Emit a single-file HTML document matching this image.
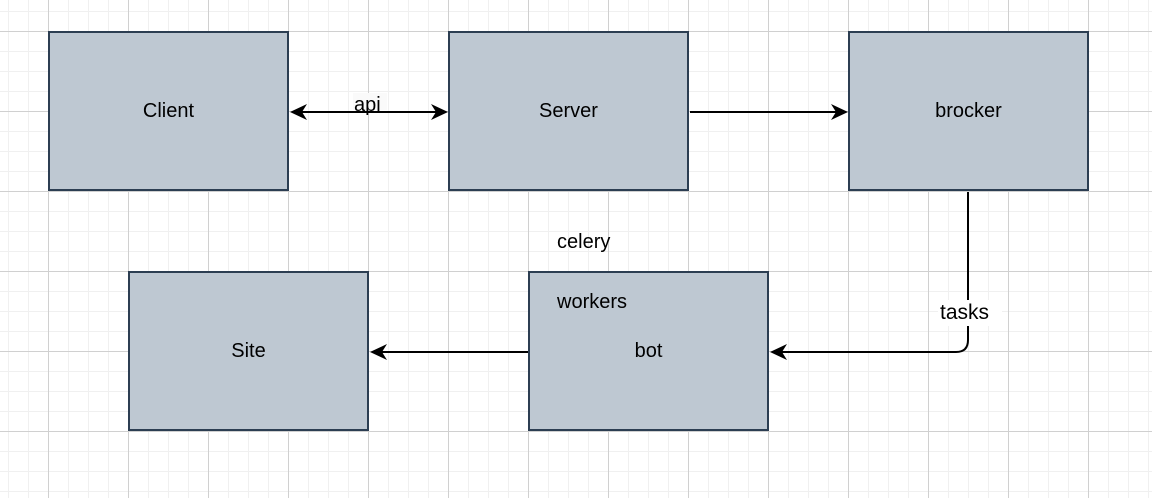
<!DOCTYPE html>
<html><head><style>
html,body{margin:0;padding:0}
body{width:1152px;height:498px;overflow:hidden;background:#fff;position:relative;
background-image:
linear-gradient(#d0d0d0 1px,transparent 1px),
linear-gradient(90deg,#d0d0d0 1px,transparent 1px),
linear-gradient(#f0f0f0 1px,transparent 1px),
linear-gradient(90deg,#f0f0f0 1px,transparent 1px);
background-size:80px 80px,80px 80px,20px 20px,20px 20px;
background-position:0 31px,48px 0,0 11px,8px 0;
font-family:"Liberation Sans",Arial,sans-serif}
.b{position:absolute;box-sizing:border-box;width:241px;height:160px;background:#bec8d2;border:2px solid #2c3e52;display:flex;align-items:center;justify-content:center;font-size:20px;color:#000}
.t{position:absolute;font-size:20px;color:#000;line-height:22px}
</style></head><body>
<div class="b" style="left:48px;top:31px">Client</div>
<div class="b" style="left:448px;top:31px">Server</div>
<div class="b" style="left:848px;top:31px">brocker</div>
<div class="b" style="left:128px;top:271px">Site</div>
<div class="b" style="left:528px;top:271px">bot</div>
<svg width="1152" height="498" style="position:absolute;left:0;top:0">
<g stroke="#000" stroke-width="2" fill="none">
<line x1="300" y1="112" x2="436" y2="112"/>
<line x1="690" y1="112" x2="836" y2="112"/>
<path d="M968 192 V340 Q968 352 956 352 H782"/>
<line x1="528" y1="352" x2="382" y2="352"/>
</g>
<g fill="#000">
<path d="M290 112 L307 104 L302 112 L307 120Z"/>
<path d="M448 112 L431 104 L436 112 L431 120Z"/>
<path d="M848 112 L831 104 L836 112 L831 120Z"/>
<path d="M770 352 L787 344 L782 352 L787 360Z"/>
<path d="M370 352 L387 344 L382 352 L387 360Z"/>
</g>
<rect x="353" y="93" width="34" height="17" fill="#fafafa"/>
<rect x="938" y="300" width="64" height="26" fill="#fff"/>
</svg>
<div class="t" style="left:354px;top:94px">api</div>
<div class="t" style="left:940px;top:302px;font-size:21px">tasks</div>
<div class="t" style="left:557px;top:231px">celery</div>
<div class="t" style="left:557px;top:291px">workers</div>
</body></html>
